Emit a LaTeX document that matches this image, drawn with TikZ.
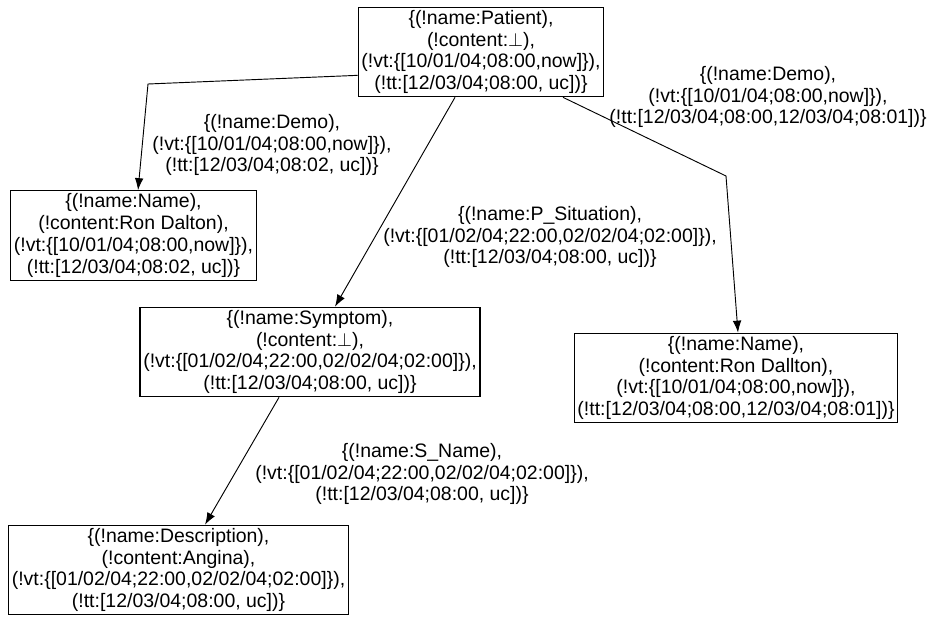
\documentclass[tikz,border=0pt]{standalone}
\usepackage{fontspec}
\setmainfont{Liberation Sans}
\usetikzlibrary{arrows.meta}
\newcommand{\bottom}{$\perp$}
\begin{document}
\begin{tikzpicture}[x=0.75pt,y=-0.75pt,
  txt/.style={align=center, font=\fontsize{14.6}{16.4}\selectfont},
  rec/.style={txt, draw, line width=0.8pt, inner xsep=2.5pt, inner ysep=2.2pt},
  lbl/.style={txt, inner sep=0pt},
  link/.style={line width=0.7pt, -{Latex[length=9pt,width=6.5pt]}}]
\useasboundingbox (0,0) rectangle (934,617);

% element nodes
\node[rec] (patient) at (481,52) {\{(!name:Patient),\\(!content:\bottom),\\(!vt:\{[10/01/04;08:00,now]\}),\\(!tt:[12/03/04;08:00, uc])\}};
\node[rec] (name1) at (133.5,235.5) {\{(!name:Name),\\(!content:Ron Dalton),\\(!vt:\{[10/01/04;08:00,now]\}),\\(!tt:[12/03/04;08:02, uc])\}};
\node[rec] (symptom) at (310,352) {\{(!name:Symptom),\\(!content:\bottom),\\(!vt:\{[01/02/04;22:00,02/02/04;02:00]\}),\\(!tt:[12/03/04;08:00, uc])\}};
\node[rec] (name2) at (736,378) {\{(!name:Name),\\(!content:Ron Dallton),\\(!vt:\{[10/01/04;08:00,now]\}),\\(!tt:[12/03/04;08:00,12/03/04;08:01])\}};
\node[rec] (descr) at (178.5,570) {\{(!name:Description),\\(!content:Angina),\\(!vt:\{[01/02/04;22:00,02/02/04;02:00]\}),\\(!tt:[12/03/04;08:00, uc])\}};

% edge labels
\node[lbl] (lbdemo1) at (272,145) {\{(!name:Demo),\\(!vt:\{[10/01/04;08:00,now]\}),\\(!tt:[12/03/04;08:02, uc])\}};
\node[lbl] (lbsit) at (550,237) {\{(!name:P\_Situation),\\(!vt:\{[01/02/04;22:00,02/02/04;02:00]\}),\\(!tt:[12/03/04;08:00, uc])\}};
\node[lbl] (lbdemo2) at (768,97) {\{(!name:Demo),\\(!vt:\{[10/01/04;08:00,now]\}),\\(!tt:[12/03/04;08:00,12/03/04;08:01])\}};
\node[lbl] (lbsname) at (422,474) {\{(!name:S\_Name),\\(!vt:\{[01/02/04;22:00,02/02/04;02:00]\}),\\(!tt:[12/03/04;08:00, uc])\}};

% bends of the two elbowed links
\coordinate (bendl) at (148,84);
\coordinate (bendr) at (726,176);

% links
\draw[link] ([yshift=16.5pt]patient.south west) -- (bendl) -- ([xshift=3.4pt]name1.north);
\draw[link] ([xshift=-19.5pt]patient.south) -- ([xshift=18.75pt]symptom.north);
\draw[link] ([xshift=61.5pt]patient.south) -- (bendr) -- ([xshift=1.5pt]name2.north);
\draw[link] ([xshift=-23.25pt]symptom.south) -- ([xshift=19.9pt]descr.north);
\end{tikzpicture}
\end{document}
